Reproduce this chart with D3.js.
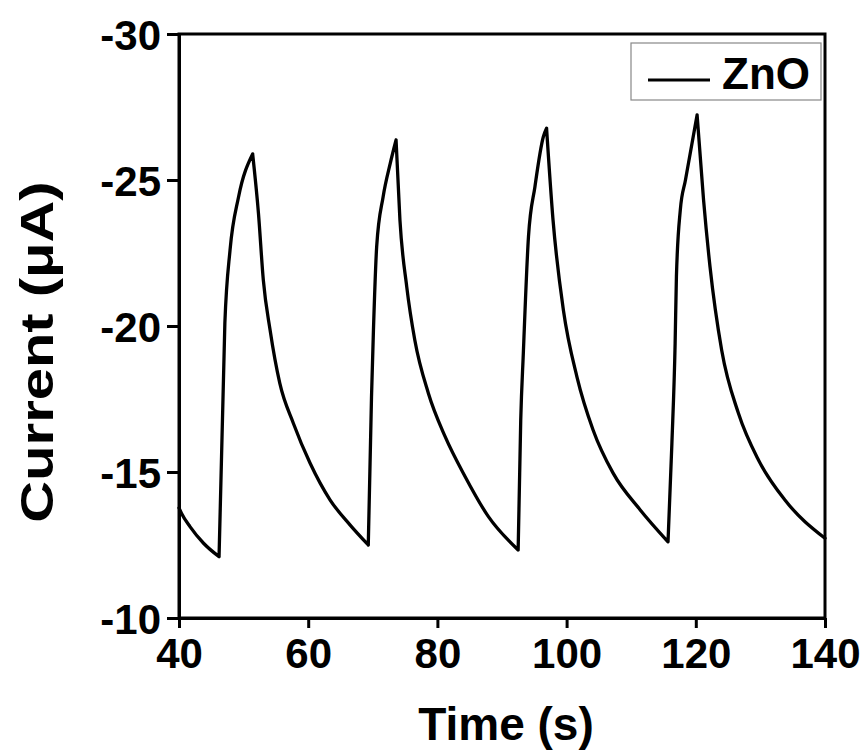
<!DOCTYPE html>
<html>
<head>
<meta charset="utf-8">
<script src="https://cdn.jsdelivr.net/npm/d3@7"></script>
<style>
  body { margin: 0; background: #fff; }
  text { font-family: "Liberation Sans", Arial, sans-serif; font-weight: bold; fill: #000; }
</style>
</head>
<body>
<div id="viz"></div>
<script>
// time (s)
const time = [40, 40.4, 41.7, 43.8, 46.2, 47.1, 47.9, 49.2, 51.4,
  52.3, 53.05, 54.1, 55.6, 57.7, 60.3, 63.4, 66.5, 69.3,
  69.8, 70.1, 70.6, 71.6, 72.7, 73.6,
  74.2, 75.25, 76.5, 78.6, 81.2, 84.3, 87.9, 92.5,
  92.9, 93.3, 94.1, 95.1, 96.4, 96.9,
  97.9, 99.5, 101.6, 104.1, 107.2, 111.4, 115.7,
  116.3, 116.8, 117.0, 117.6, 118.4, 120.2,
  121.2, 122.2, 124.0, 126.6, 129.7, 133.8, 140];
// current (uA)
const current = [-13.77, -13.58, -13.13, -12.56, -12.1, -20.1, -22.6, -24.4, -25.89,
  -23.86, -21.58, -19.86, -18.04, -16.67, -15.3, -14.04, -13.18, -12.5,
  -17.58, -19.86, -22.72, -24.43, -25.57, -26.37,
  -23.63, -21.35, -19.52, -17.7, -16.21, -14.84, -13.47, -12.33,
  -16.78, -19.06, -23.06, -24.77, -26.48, -26.77,
  -23.63, -20.55, -18.26, -16.44, -14.96, -13.7, -12.61,
  -15.98, -19.41, -21.69, -23.97, -25.0, -27.23,
  -24.32, -22.03, -19.18, -17.01, -15.41, -14.04, -12.73];

const xTicks = [40, 60, 80, 100, 120, 140];
const yTicks = [-30, -25, -20, -15, -10];
const seriesName = 'ZnO';

const dims = {
  width: 865,
  height: 751,
  margin: {top: 34, right: 40, bottom: 133, left: 179},
};
dims.boundedWidth = dims.width - dims.margin.left - dims.margin.right;
dims.boundedHeight = dims.height - dims.margin.top - dims.margin.bottom;

const svg = d3.select('#viz').append('svg')
  .attr('width', dims.width)
  .attr('height', dims.height);

const bounds = svg.append('g')
  .attr('transform', `translate(${dims.margin.left},${dims.margin.top})`);

const x = d3.scaleLinear().domain([40, 140]).range([0, dims.boundedWidth]);
const y = d3.scaleLinear().domain([-30, -10]).range([0, dims.boundedHeight]);

const data = time.map((t, i) => ({t: t, v: current[i]}));

// split at peaks / minima so every piece is monotone and the corners stay sharp
let cuts = [0];
for (let i = 1; i < data.length - 1; i++) {
  const a = data[i].v - data[i - 1].v, b = data[i + 1].v - data[i].v;
  if (a * b < 0) cuts.push(i);
}
cuts.push(data.length - 1);
const pieces = d3.pairs(cuts).map(([s, e]) => data.slice(s, e + 1));

const lineGen = d3.line()
  .x(d => x(d.t))
  .y(d => y(d.v))
  .curve(d3.curveMonotoneX);

// curve
bounds.append('path')
  .attr('fill', 'none')
  .attr('stroke', '#000')
  .attr('stroke-width', 3.3)
  .attr('stroke-linejoin', 'round')
  .attr('stroke-linecap', 'round')
  .attr('d', pieces.map(p => lineGen(p)).join(''));

// frame (top/right without ticks)
bounds.append('rect')
  .attr('width', dims.boundedWidth)
  .attr('height', dims.boundedHeight)
  .attr('fill', 'none')
  .attr('stroke', '#000')
  .attr('stroke-width', 3);

// axes
const xAxis = bounds.append('g')
  .attr('transform', `translate(0,${dims.boundedHeight})`)
  .call(d3.axisBottom(x).tickValues(xTicks).tickFormat(d => String(d))
    .tickSize(10).tickPadding(8).tickSizeOuter(0));

const yAxis = bounds.append('g')
  .call(d3.axisLeft(y).tickValues(yTicks).tickFormat(d => String(d))
    .tickSize(12).tickPadding(6).tickSizeOuter(0));

[xAxis, yAxis].forEach(a => {
  a.select('.domain').attr('stroke-width', 3);
  a.selectAll('.tick line').attr('stroke-width', 3);
  a.selectAll('.tick text')
    .style('font-size', '42px')
    .attr('font-family', null)
    .attr('fill', '#000');
});
xAxis.selectAll('.tick text').attr('dy', '0.75em');
yAxis.selectAll('.tick text').attr('dy', '0.36em');

// axis titles
svg.append('text')
  .attr('x', dims.margin.left + dims.boundedWidth / 2 + 4)
  .attr('y', 740)
  .attr('text-anchor', 'middle')
  .style('font-size', '46px')
  .text('Time (s)');

svg.append('text')
  .attr('transform', 'translate(53,352) rotate(-90) scale(1.26,1)')
  .attr('text-anchor', 'middle')
  .style('font-size', '46px')
  .text('Current (μA)');

// legend
const legend = svg.append('g').attr('transform', 'translate(631,43)');
legend.append('rect')
  .attr('width', 190)
  .attr('height', 57)
  .attr('fill', '#fff')
  .attr('stroke', '#888')
  .attr('stroke-width', 1.2);
legend.append('line')
  .attr('x1', 17).attr('x2', 79)
  .attr('y1', 37).attr('y2', 37)
  .attr('stroke', '#000')
  .attr('stroke-width', 3);
legend.append('text')
  .attr('x', 91)
  .attr('y', 46)
  .style('font-size', '44px')
  .text(seriesName);
</script>
</body>
</html>
